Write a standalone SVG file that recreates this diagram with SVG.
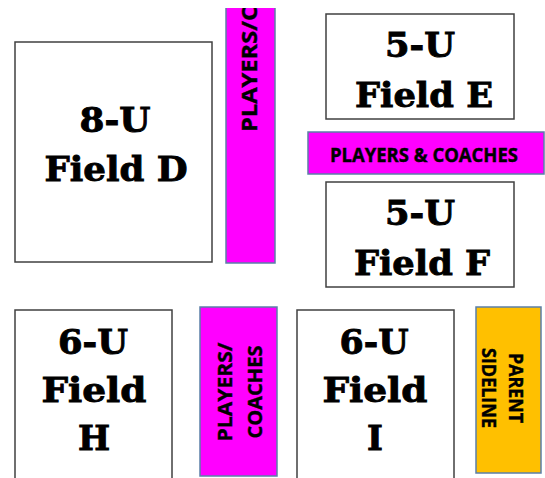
<svg xmlns="http://www.w3.org/2000/svg" width="545" height="478" viewBox="0 0 545 478">
<style>
.field{fill:#ffffff;stroke:#404040;stroke-width:1.5}
.pc{fill:#ff00ff;stroke:#5b7fa8;stroke-width:1.5}
.ps{fill:#ffc000;stroke:#5b7fa8;stroke-width:1.5}
.fl{font-family:"DejaVu Serif",serif;font-weight:bold;font-size:34px;fill:#000;stroke:#000;stroke-width:0.9;text-anchor:middle}
.bl{font-family:"Open Sans","Liberation Sans",sans-serif;font-weight:bold;fill:#000;stroke:#000;stroke-width:0.4}
</style>
<defs>
<clipPath id="clipTop"><rect x="226" y="8" width="49" height="255"/></clipPath>
</defs>
<rect width="545" height="478" fill="#ffffff"/>

<g id="field-d">
<rect class="field" x="15" y="42" width="197" height="220"/>
<text class="fl" x="115" y="132" textLength="71" lengthAdjust="spacingAndGlyphs">8-U</text>
<text class="fl" x="116" y="181" textLength="143" lengthAdjust="spacingAndGlyphs">Field D</text>
</g>

<g id="players-coaches-top">
<rect x="226" y="8" width="49" height="255" fill="#ff00ff"/>
<polyline points="226,8 226,263 275,263 275,8" fill="none" stroke="#5b7fa8" stroke-width="1.5"/>
<g clip-path="url(#clipTop)">
<text class="bl" font-size="21" transform="translate(257,132) rotate(-90)" textLength="126" lengthAdjust="spacingAndGlyphs">PLAYERS/C</text>
</g>
</g>

<g id="field-e">
<rect class="field" x="326" y="14" width="188" height="105"/>
<text class="fl" x="420" y="57" textLength="70" lengthAdjust="spacingAndGlyphs">5-U</text>
<text class="fl" x="424" y="107" textLength="138" lengthAdjust="spacingAndGlyphs">Field E</text>
</g>

<g id="players-coaches-mid">
<rect class="pc" x="308" y="132" width="236" height="42"/>
<text class="bl" font-size="19" x="424" y="162" text-anchor="middle" textLength="188" lengthAdjust="spacingAndGlyphs">PLAYERS &amp; COACHES</text>
</g>

<g id="field-f">
<rect class="field" x="326" y="182" width="188" height="105"/>
<text class="fl" x="420" y="225" textLength="70" lengthAdjust="spacingAndGlyphs">5-U</text>
<text class="fl" x="422" y="275" textLength="136" lengthAdjust="spacingAndGlyphs">Field F</text>
</g>

<g id="field-h">
<rect class="field" x="15" y="310" width="157" height="180"/>
<text class="fl" x="93" y="354" textLength="70" lengthAdjust="spacingAndGlyphs">6-U</text>
<text class="fl" x="94" y="402" textLength="105" lengthAdjust="spacingAndGlyphs">Field</text>
<text class="fl" x="94" y="450">H</text>
</g>

<g id="players-coaches-bottom">
<rect class="pc" x="200" y="307" width="77" height="169"/>
<text class="bl" font-size="20" text-anchor="middle" transform="translate(232,392) rotate(-90)" textLength="99" lengthAdjust="spacingAndGlyphs">PLAYERS/</text>
<text class="bl" font-size="20" text-anchor="middle" transform="translate(262,392) rotate(-90)" textLength="93" lengthAdjust="spacingAndGlyphs">COACHES</text>
</g>

<g id="field-i">
<rect class="field" x="297" y="310" width="157" height="180"/>
<text class="fl" x="374" y="354" textLength="69" lengthAdjust="spacingAndGlyphs">6-U</text>
<text class="fl" x="375" y="402" textLength="105" lengthAdjust="spacingAndGlyphs">Field</text>
<text class="fl" x="375" y="450">I</text>
</g>

<g id="parent-sideline">
<rect class="ps" x="476" y="307" width="65" height="166"/>
<text class="bl" font-size="19" text-anchor="middle" transform="translate(509,388) rotate(90)" textLength="70" lengthAdjust="spacingAndGlyphs">PARENT</text>
<text class="bl" font-size="19" text-anchor="middle" transform="translate(482,388) rotate(90)" textLength="80" lengthAdjust="spacingAndGlyphs">SIDELINE</text>
</g>

<g id="connectors"></g>
</svg>
